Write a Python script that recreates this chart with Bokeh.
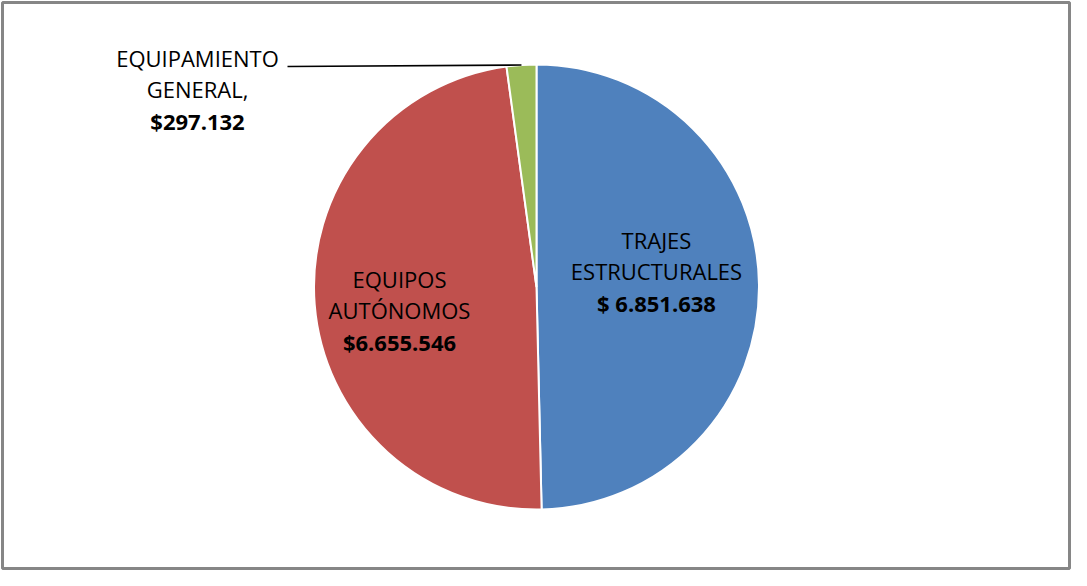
import math
from bokeh.plotting import figure
from bokeh.models import Range1d, ColumnDataSource
from bokeh.core.properties import value
from bokeh.embed import file_html
from bokeh.resources import INLINE

# ---------------- data ----------------
categories = ["TRAJES ESTRUCTURALES", "EQUIPOS AUTÓNOMOS", "EQUIPAMIENTO GENERAL"]
values = [6851638, 6655546, 297132]
value_labels = ["$ 6.851.638", "$6.655.546", "$297.132"]
name_lines = [["TRAJES", "ESTRUCTURALES"], ["EQUIPOS", "AUTÓNOMOS"], ["EQUIPAMIENTO", "GENERAL,"]]
colors = ["#4F81BD", "#C0504D", "#9BBB59"]

# ---------------- layout (page pixel coordinates) ----------------
PAGE_W, PAGE_H = 1087, 586
W, H = 1071, 570
B = 2                                   # border around frame so outline is not clipped
CX, CY, R = 544, 294.5, 222.5          # pie centre / radius in page px
label_first_line = [(664, 247), (407, 286), (205, 65)]
LINE_STEP = 31.5
FONT = "Open Sans"
FONT_SIZE = "22px"

def py(y):  # page y -> data y
    return PAGE_H - y

total = float(sum(values))
starts, ends = [], []
cum = 0.0
for v in values:
    starts.append(math.pi / 2 - 2 * math.pi * cum / total)
    cum += v
    ends.append(math.pi / 2 - 2 * math.pi * cum / total)

p = figure(width=W, height=H, output_backend="svg", toolbar_location=None,
           x_range=Range1d(8 + B, 8 + W - B), y_range=Range1d(PAGE_H - 8 - H + B, PAGE_H - 8 - B),
           min_border=B, background_fill_color="white", border_fill_color="white")
p.axis.visible = False
p.grid.visible = False
p.outline_line_color = "#868686"
p.outline_line_width = 3

src = ColumnDataSource(dict(cat=categories, val=values, start=starts, end=ends, color=colors))
p.wedge(x=CX, y=py(CY), radius=R, start_angle="start", end_angle="end", direction="clock",
        fill_color="color", line_color="white", line_width=2, source=src)

# leader line for the small slice
mid = (starts[2] + ends[2]) / 2
lx = CX + R * math.cos(mid)
ly = py(CY) + R * math.sin(mid)
p.line(x=[295, lx], y=[py(74), ly], line_color="black", line_width=1.6)

# labels
nx, ny, nt = [], [], []
bx, by, bt = [], [], []
for i in range(len(categories)):
    x0, y0 = label_first_line[i]
    for j, t in enumerate(name_lines[i]):
        nx.append(x0); ny.append(py(y0 + j * LINE_STEP)); nt.append(t)
    bx.append(x0); by.append(py(y0 + len(name_lines[i]) * LINE_STEP)); bt.append(value_labels[i])

p.text(x=nx, y=ny, text=nt, text_align="center", text_baseline="middle",
       text_font=value(FONT), text_font_size=FONT_SIZE, text_color="black")
p.text(x=bx, y=by, text=bt, text_align="center", text_baseline="middle",
       text_font=value(FONT), text_font_size=FONT_SIZE, text_font_style="bold", text_color="black")

open("out.html", "w").write(file_html(p, INLINE))
